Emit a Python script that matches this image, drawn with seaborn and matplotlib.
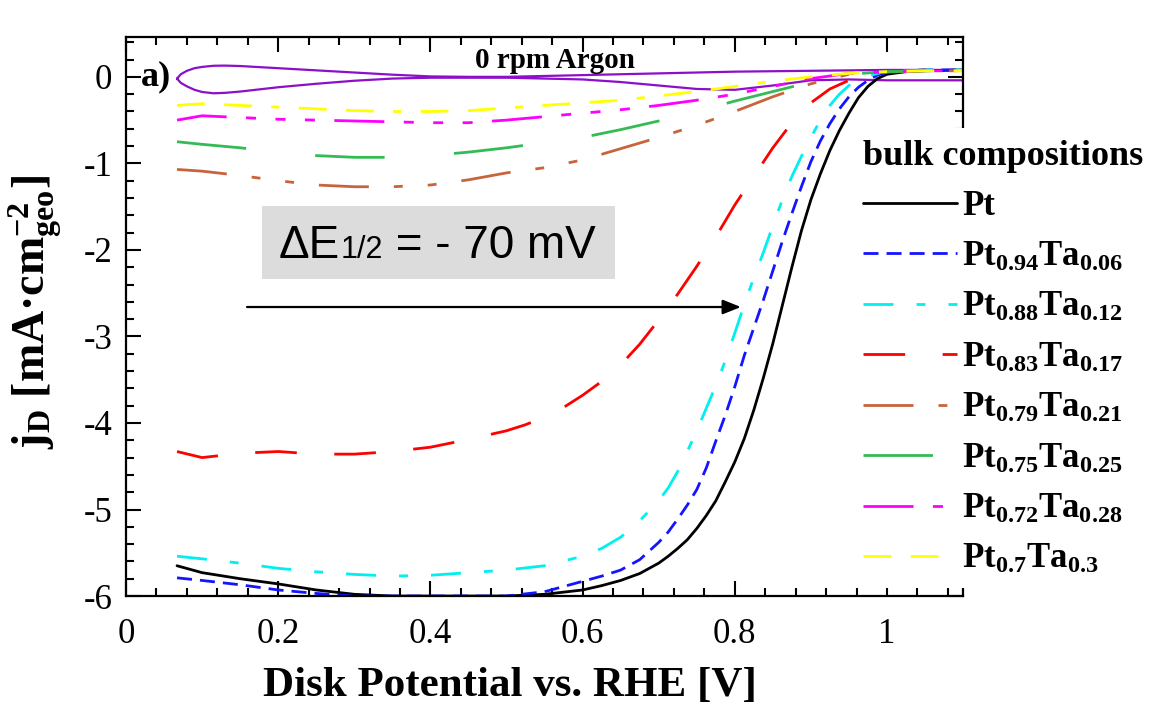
import matplotlib
matplotlib.use("Agg")
import matplotlib.pyplot as plt
import numpy as np
import pandas as pd
import seaborn as sns
from matplotlib.lines import Line2D
from matplotlib.patches import Rectangle
from matplotlib.ticker import FixedLocator, MultipleLocator, FuncFormatter
from matplotlib.offsetbox import TextArea, HPacker, AnnotationBbox

# ---------------------------------------------------------------- data
# disk potential grids (V vs RHE)
potential = [0.067, 0.1, 0.15, 0.2, 0.25, 0.3, 0.35, 0.4, 0.45, 0.5, 0.55,
             0.6, 0.65, 0.7, 0.75, 0.8, 0.85, 0.9, 0.95, 1.0, 1.05, 1.1]
potential_mid = [0.067, 0.1, 0.15, 0.2, 0.25, 0.3, 0.35, 0.4, 0.45, 0.5,
                 0.525, 0.55, 0.575, 0.6, 0.625, 0.65, 0.675, 0.7, 0.725,
                 0.75, 0.775, 0.8, 0.825, 0.85, 0.875, 0.9, 0.925, 0.95,
                 0.975, 1.0, 1.05, 1.1]
potential_fine = [0.067, 0.1, 0.15, 0.2, 0.25, 0.3, 0.35, 0.4, 0.45, 0.5,
                  0.55, 0.6, 0.625, 0.65, 0.675,
                  0.7, 0.7125, 0.725, 0.7375, 0.75, 0.7625, 0.775, 0.7875,
                  0.8, 0.8125, 0.825, 0.8375, 0.85, 0.8625, 0.875, 0.8875,
                  0.9, 0.9125, 0.925, 0.9375, 0.95, 0.9625, 0.975, 0.9875,
                  1.0, 1.025, 1.05, 1.1]

# disk current density (mA cm^-2 geo)
j_pt = [-5.65, -5.73, -5.80, -5.86, -5.93, -5.98, -6.0, -6.0, -6.0, -6.0,
        -5.98, -5.93, -5.88, -5.82, -5.74,
        -5.62, -5.54, -5.45, -5.35, -5.22, -5.07, -4.90, -4.68,
        -4.45, -4.18, -3.85, -3.48, -3.08, -2.64, -2.20, -1.78,
        -1.42, -1.12, -0.85, -0.62, -0.42, -0.24, -0.11, -0.02,
        0.03, 0.06, 0.07, 0.08]
j_pt94 = [-5.79, -5.82, -5.87, -5.93, -5.97, -6.0, -6.0, -6.0, -6.0, -6.0,
          -5.95, -5.83, -5.77, -5.70, -5.58,
          -5.38, -5.26, -5.11, -4.95, -4.77, -4.52, -4.21, -3.91,
          -3.58, -3.22, -2.90, -2.58, -2.24, -1.90, -1.58, -1.27,
          -0.98, -0.74, -0.54, -0.37, -0.23, -0.12, -0.04, 0.02,
          0.05, 0.07, 0.08, 0.08]
j_pt88 = [-5.54, -5.57, -5.62, -5.68, -5.72, -5.75, -5.77, -5.76, -5.73, -5.70,
          -5.65, -5.54, -5.45, -5.32, -5.13,
          -4.90, -4.75, -4.56, -4.33, -4.09, -3.83, -3.57, -3.28,
          -2.96, -2.63, -2.32, -2.03, -1.72, -1.42, -1.15, -0.92,
          -0.70, -0.50, -0.33, -0.20, -0.10, -0.03, 0.01, 0.04,
          0.05, 0.07, 0.08, 0.08]
j_pt83 = [-4.33, -4.40, -4.35, -4.33, -4.36, -4.36, -4.33, -4.28, -4.19, -4.09,
          -4.02, -3.93, -3.82, -3.68, -3.52, -3.33, -3.09, -2.81, -2.51,
          -2.19, -1.85, -1.48, -1.15, -0.82, -0.53, -0.30, -0.14, -0.04,
          0.02, 0.05, 0.08, 0.08]
j_pt79 = [-1.07, -1.09, -1.14, -1.20, -1.25, -1.27, -1.27, -1.25, -1.19, -1.11,
          -1.05, -0.96, -0.83, -0.70, -0.56, -0.40, -0.23, -0.08, 0.03, 0.06,
          0.07, 0.07]
j_pt75 = [-0.75, -0.78, -0.82, -0.87, -0.91, -0.93, -0.93, -0.91, -0.87, -0.82,
          -0.76, -0.70, -0.61, -0.51, -0.40, -0.28, -0.17, -0.06, 0.03, 0.06,
          0.07, 0.07]
j_pt72 = [-0.50, -0.45, -0.47, -0.49, -0.50, -0.51, -0.52, -0.53, -0.53, -0.50,
          -0.46, -0.42, -0.38, -0.33, -0.27, -0.20, -0.11, -0.02, 0.04, 0.06,
          0.07, 0.07]
j_pt70 = [-0.33, -0.31, -0.33, -0.35, -0.37, -0.39, -0.40, -0.40, -0.39, -0.36,
          -0.33, -0.30, -0.27, -0.22, -0.17, -0.11, -0.05, 0.0, 0.04, 0.06,
          0.07, 0.07]

# 0 rpm argon background scan (closed loop: forward then backward)
argon_potential = [0.067, 0.072, 0.08, 0.09, 0.1, 0.115, 0.13, 0.15, 0.17,
                   0.2, 0.25, 0.3, 0.35, 0.4, 0.45, 0.5, 0.6, 0.7, 0.8, 0.9,
                   1.0, 1.1,
                   1.1, 1.0, 0.95, 0.9, 0.85, 0.8, 0.75, 0.7, 0.65, 0.6,
                   0.5, 0.4, 0.35, 0.3, 0.25, 0.2, 0.17, 0.15, 0.13, 0.115,
                   0.1, 0.09, 0.08, 0.072, 0.067]
argon_current = [-0.02, 0.03, 0.07, 0.10, 0.115, 0.128, 0.13, 0.125, 0.115,
                 0.10, 0.075, 0.05, 0.025, 0.005, 0.0, 0.0, 0.02, 0.04, 0.06,
                 0.07, 0.08, 0.08,
                 -0.04, -0.04, -0.03, -0.04, -0.10, -0.15, -0.14, -0.10,
                 -0.06, -0.03, -0.01, -0.01, -0.02, -0.045, -0.08, -0.12,
                 -0.15, -0.17, -0.185, -0.19, -0.175, -0.15, -0.11, -0.07,
                 -0.02]

samples = ["Pt", "Pt94Ta06", "Pt88Ta12", "Pt83Ta17",
           "Pt79Ta21", "Pt75Ta25", "Pt72Ta28", "Pt70Ta30"]
sample_labels = [r"Pt",
                 r"Pt$_{\mathbf{0.94}}$Ta$_{\mathbf{0.06}}$",
                 r"Pt$_{\mathbf{0.88}}$Ta$_{\mathbf{0.12}}$",
                 r"Pt$_{\mathbf{0.83}}$Ta$_{\mathbf{0.17}}$",
                 r"Pt$_{\mathbf{0.79}}$Ta$_{\mathbf{0.21}}$",
                 r"Pt$_{\mathbf{0.75}}$Ta$_{\mathbf{0.25}}$",
                 r"Pt$_{\mathbf{0.72}}$Ta$_{\mathbf{0.28}}$",
                 r"Pt$_{\mathbf{0.7}}$Ta$_{\mathbf{0.3}}$"]
sample_currents = [j_pt, j_pt94, j_pt88, j_pt83, j_pt79, j_pt75, j_pt72, j_pt70]
sample_grids = [potential_fine, potential_fine, potential_fine, potential_mid,
                potential, potential, potential, potential]

x_ticks = [0, 0.2, 0.4, 0.6, 0.8, 1.0]
y_ticks = [-6, -5, -4, -3, -2, -1, 0]

# ---------------------------------------------------------------- style
colors = ["#000000", "#1414ff", "#00f0f0", "#ff0000",
          "#c8643c", "#35bb55", "#ff00ff", "#ffff00"]
dash_patterns = ["",
                 (5.4, 2.9),
                 (10.8, 8.3, 3.2, 8.3),
                 (15.0, 13.5),
                 (18.0, 9.0, 3.2, 9.0, 3.2, 9.0),
                 (25.0, 25.0),
                 (18.0, 7.0, 3.6, 7.0, 3.6, 7.0, 3.6, 7.0),
                 (10.0, 7.0, 10.0, 7.0, 2.9, 7.0)]
argon_color = "#8c10c8"

sns.set_style("ticks")
plt.rcParams["font.family"] = ["Liberation Serif", "DejaVu Serif"]
plt.rcParams["mathtext.fontset"] = "custom"
plt.rcParams["mathtext.rm"] = "Liberation Serif"
plt.rcParams["mathtext.it"] = "Liberation Serif:italic"
plt.rcParams["mathtext.bf"] = "Liberation Serif:bold"
plt.rcParams["mathtext.sf"] = "Liberation Sans"
plt.rcParams["axes.unicode_minus"] = False
for key in ["text.color", "axes.labelcolor", "xtick.color", "ytick.color",
            "axes.edgecolor"]:
    plt.rcParams[key] = "black"

rows = []
for name, grid, cur in zip(samples, sample_grids, sample_currents):
    for v, j in zip(grid, cur):
        rows.append((name, v, j))
df = pd.DataFrame(rows, columns=["sample", "potential", "current"])

fig = plt.figure(figsize=(11.49, 7.11), dpi=100)
ax = fig.add_axes([0.1097, 0.1617, 0.7285, 0.7862])

lw = 2.0
sns.lineplot(data=pd.DataFrame({"potential": argon_potential,
                                "current": argon_current}),
             x="potential", y="current", sort=False, estimator=None,
             color=argon_color, linewidth=1.6, ax=ax)
sns.lineplot(data=df, x="potential", y="current",
             hue="sample", style="sample",
             hue_order=samples, style_order=samples,
             palette=dict(zip(samples, colors)),
             dashes=dict(zip(samples, dash_patterns)),
             linewidth=lw, estimator=None, sort=False, legend=False, ax=ax)

ax.set_xlim(0, 1.1)
ax.set_ylim(-6, 0.46)

ax.xaxis.set_major_locator(FixedLocator(x_ticks))
ax.yaxis.set_major_locator(FixedLocator(y_ticks))
ax.xaxis.set_minor_locator(MultipleLocator(0.04))
ax.yaxis.set_minor_locator(MultipleLocator(0.2))
fmt = FuncFormatter(lambda v, p: f"{v:g}")
ax.xaxis.set_major_formatter(fmt)
ax.yaxis.set_major_formatter(fmt)
ax.tick_params(which="both", direction="in", top=True, right=True,
               width=1.5, colors="black", labelsize=25)
ax.tick_params(axis="x", which="major", pad=16)
ax.tick_params(axis="y", which="major", pad=10)
ax.tick_params(which="major", length=11)
ax.tick_params(which="minor", length=6)
for s in ax.spines.values():
    s.set_linewidth(1.6)
    s.set_color("black")

ax.set_xlabel("Disk Potential vs. RHE [V]", fontsize=31, fontweight="bold")
ax.xaxis.set_label_coords(0.459, -0.127)
ax.set_ylabel(r"j$_{\mathbf{D}}$ [mA·cm$^{\mathbf{-2}}_{\mathbf{geo}}$]",
              fontsize=33, fontweight="bold")
ax.yaxis.set_label_coords(-0.074, 0.508)

ax.text(0.02, 0.0, "a)", fontsize=26, fontweight="bold", va="center",
        ha="left")
ax.text(0.564, 0.19, "0 rpm Argon", fontsize=21, fontweight="bold",
        va="center", ha="center")

# half-wave shift annotation
ax.add_patch(Rectangle((0.1786, -2.34), 0.4644, 0.845, facecolor="#dcdcdc",
                       edgecolor="none", zorder=3))
sans = dict(family="Liberation Sans", color="black")
label_box = HPacker(children=[TextArea("ΔE", textprops=dict(size=33, **sans)),
                              TextArea("1/2", textprops=dict(size=22, **sans)),
                              TextArea(" = - 70 mV",
                                       textprops=dict(size=33, **sans))],
                    align="baseline", pad=0, sep=0)
ab = AnnotationBbox(label_box, (0.409, -1.95), xycoords="data",
                    frameon=False, box_alignment=(0.5, 0.5), zorder=4)
ax.add_artist(ab)
ax.annotate("", xy=(0.808, -2.66), xytext=(0.159, -2.66),
            arrowprops=dict(arrowstyle="-|>,head_length=0.55,head_width=0.22",
                            lw=1.6, color="black", mutation_scale=20,
                            shrinkA=0, shrinkB=0))

handles = []
for c, d in zip(colors, dash_patterns):
    if d == "":
        handles.append(Line2D([], [], color=c, lw=lw, linestyle="-"))
    else:
        handles.append(Line2D([], [], color=c, lw=lw, dashes=d))
leg = ax.legend(handles, sample_labels, title="bulk compositions",
                loc="upper left", bbox_to_anchor=(0.866, 0.838),
                borderaxespad=0, borderpad=0.35, frameon=True,
                fancybox=False, framealpha=1, facecolor="white",
                edgecolor="none", handlelength=2.7, handletextpad=0.15,
                labelspacing=0.5, alignment="left",
                prop=dict(size=25, weight="bold"),
                title_fontproperties=dict(size=26, weight="bold"))
leg.set_zorder(10)

fig.savefig("out.png", dpi=100)
